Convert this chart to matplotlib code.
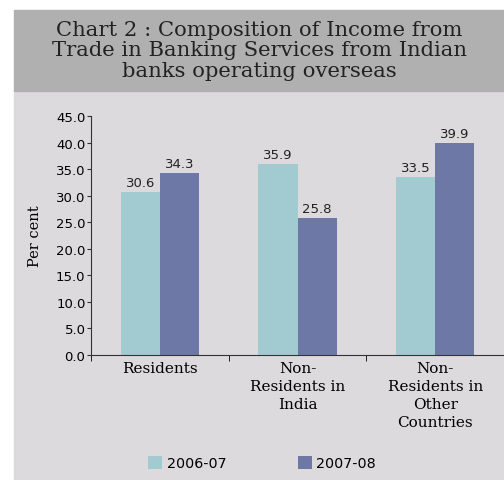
import matplotlib.pyplot as plt
import numpy as np
from matplotlib.patches import Rectangle

categories = ['Residents', 'Non-\nResidents in\nIndia', 'Non-\nResidents in\nOther\nCountries']
v0607 = [30.6, 35.9, 33.5]
v0708 = [34.3, 25.8, 39.9]
series = ['2006-07', '2007-08']
colors = ['#a2cbd1', '#6e78a6']
yticks = np.arange(0, 45.1, 5)

plt.rcParams['font.family'] = ['DejaVu Serif']

fig = plt.figure(figsize=(5.04, 4.81), dpi=100)
fig.patch.set_facecolor('white')

# background panels
fig.add_artist(Rectangle((14 / 504, 0), 490 / 504, 1 - 92 / 481,
                         transform=fig.transFigure, color='#dcdadd', zorder=0))
fig.add_artist(Rectangle((14 / 504, 1 - 92 / 481), 490 / 504, 81 / 481,
                         transform=fig.transFigure, color='#b0b0b0', zorder=0))
fig.text(259 / 504, 1 - 51 / 481,
         'Chart 2 : Composition of Income from\nTrade in Banking Services from Indian\nbanks operating overseas',
         ha='center', va='center', fontsize=15.2, color='#222222', linespacing=1.07)

ax = fig.add_axes([91 / 504, 1 - 356 / 481, 413 / 504, 239 / 481])
ax.set_facecolor('none')

x = np.arange(len(categories))
w = 0.285
b1 = ax.bar(x - w / 2, v0607, w, color=colors[0], label=series[0], zorder=2)
b2 = ax.bar(x + w / 2, v0708, w, color=colors[1], label=series[1], zorder=2)
for bars, vals in ((b1, v0607), (b2, v0708)):
    for r, v in zip(bars, vals):
        ax.text(r.get_x() + r.get_width() / 2, v + 0.6, f'{v:.1f}',
                ha='center', va='bottom', fontsize=9.5, color='#222222',
                family='DejaVu Sans')

ax.set_xlim(-0.5, 2.5)
ax.set_ylim(0, 45)
ax.set_yticks(yticks)
ax.set_yticklabels([f'{t:.1f}' for t in yticks], fontsize=9.5, family='DejaVu Sans')
ax.set_xticks(x)
ax.set_xticklabels(categories, fontsize=11, linespacing=1.38)
ax.tick_params(axis='x', length=0, pad=4)
ax.set_xticks([-0.5, 0.5, 1.5, 2.5], minor=True)
ax.tick_params(axis='x', which='minor', length=4, direction='out')
ax.tick_params(axis='y', length=3, pad=1, color='#333333')
for s in ('top', 'right'):
    ax.spines[s].set_visible(False)
for s in ('left', 'bottom'):
    ax.spines[s].set_color('#333333')
ax.set_ylabel('Per cent', fontsize=10.5, labelpad=10)

fig.legend(handles=[b1, b2], labels=series, loc='center', ncol=2,
           bbox_to_anchor=(262 / 504, 1 - 464 / 481), frameon=False,
           prop={'family': 'DejaVu Sans', 'size': 10.3}, handlelength=1.0,
           handleheight=1.1, handletextpad=0.3, columnspacing=5.0)

fig.savefig('out.png', dpi=100)
